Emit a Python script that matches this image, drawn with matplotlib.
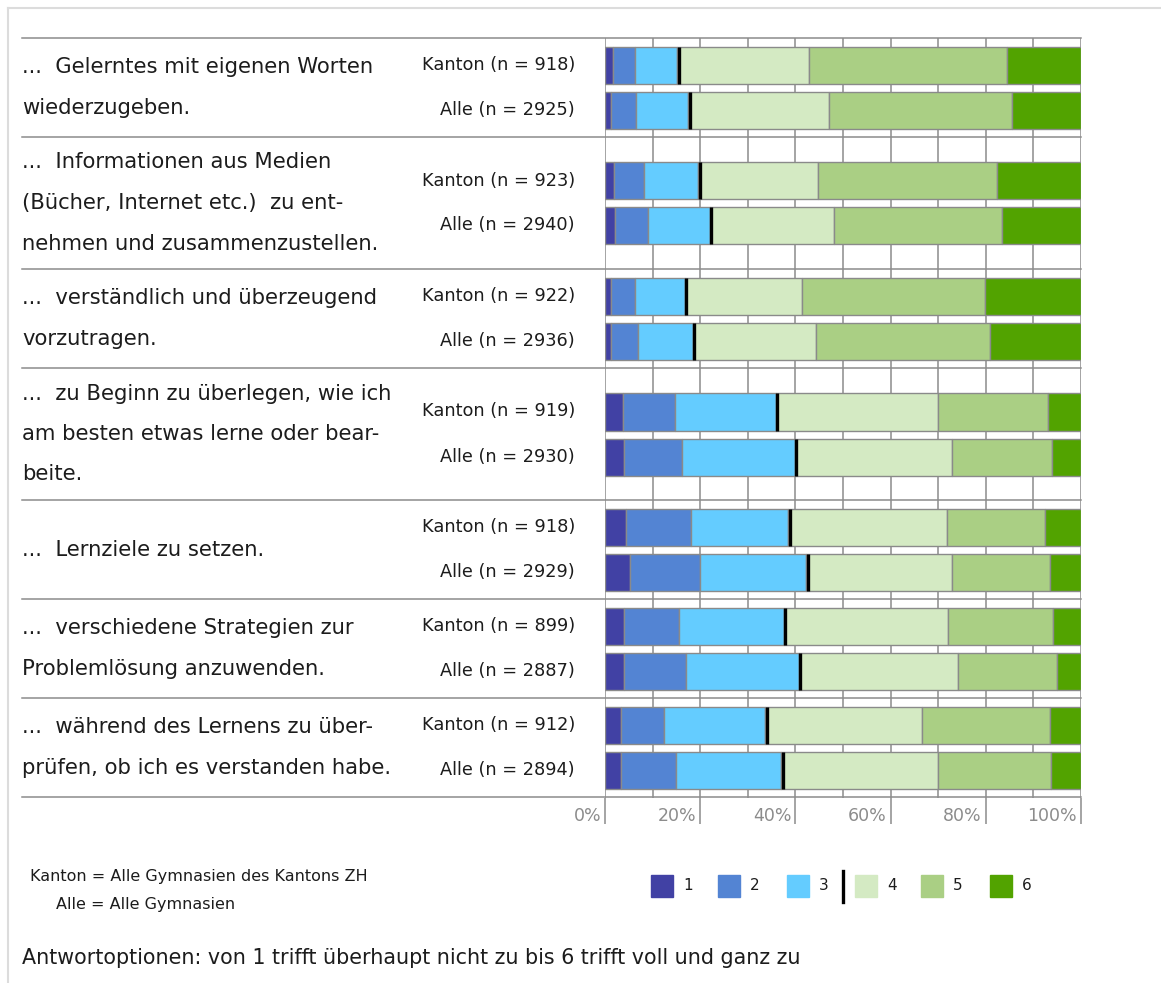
import numpy as np
import matplotlib
matplotlib.use("Agg")
import matplotlib.pyplot as plt
from matplotlib.lines import Line2D
from matplotlib.patches import Rectangle

plt.rcParams['font.family'] = ['DejaVu Sans']

# statements (one list of text lines per item)
items = [
    ["...  Gelerntes mit eigenen Worten", "wiederzugeben."],
    ["...  Informationen aus Medien", "(Bücher, Internet etc.)  zu ent-", "nehmen und zusammenzustellen."],
    ["...  verständlich und überzeugend", "vorzutragen."],
    ["...  zu Beginn zu überlegen, wie ich", "am besten etwas lerne oder bear-", "beite."],
    ["...  Lernziele zu setzen."],
    ["...  verschiedene Strategien zur", "Problemlösung anzuwenden."],
    ["...  während des Lernens zu über-", "prüfen, ob ich es verstanden habe."],
]
n_kanton = [918, 923, 922, 919, 918, 899, 912]
n_alle = [2925, 2940, 2936, 2930, 2929, 2887, 2894]

# percentages for answer options 1..6
kanton = [
    [1.7, 4.5, 9.0, 27.6, 41.7, 15.5],
    [1.8, 6.4, 11.4, 25.2, 37.6, 17.6],
    [1.2, 5.2, 10.4, 24.6, 38.4, 20.2],
    [3.8, 11.0, 21.1, 34.1, 23.1, 6.9],
    [4.5, 13.6, 20.4, 33.3, 20.6, 7.6],
    [4.0, 11.5, 22.1, 34.5, 22.0, 5.9],
    [3.4, 9.0, 21.3, 32.9, 26.9, 6.5],
]
alle = [
    [1.3, 5.3, 10.9, 29.6, 38.3, 14.6],
    [2.2, 6.9, 12.9, 26.2, 35.2, 16.6],
    [1.2, 5.8, 11.4, 26.0, 36.4, 19.2],
    [4.0, 12.2, 23.7, 32.9, 21.1, 6.1],
    [5.2, 14.8, 22.3, 30.5, 20.6, 6.6],
    [4.0, 13.1, 23.6, 33.5, 20.8, 5.0],
    [3.3, 11.7, 22.0, 33.0, 23.7, 6.3],
]
options = ["1", "2", "3", "4", "5", "6"]
colors = ["#4141a4", "#5384d3", "#64ccff", "#d4eac3", "#aacf84", "#52a300"]

W, H = 1161, 983
fig = plt.figure(figsize=(W / 100, H / 100), dpi=100)

def fx(px):
    return px / W

def fy(py):
    return 1 - py / H

# plot area in pixels
x0, x1 = 605, 1081
top, bottom = 38, 798
ax = fig.add_axes([fx(x0), fy(bottom), fx(x1 - x0), (bottom - top) / H])

# group heights (pixel units) depend on the number of text lines
heights = [132 if len(t) >= 3 else 99 for t in items]
edges = np.concatenate([[0], np.cumsum(heights)])
total = edges[-1]
ax.set_xlim(0, 100)
ax.set_ylim(total, 0)
ax.axis("off")

# vertical gridlines
ax.vlines(np.arange(0, 101, 10), 0, total, color="#8c8c8c", lw=1.1, zorder=0)
# longer tick marks with labels below
ax.vlines(np.arange(0, 101, 20), total, total + 26, color="#8c8c8c", lw=1.1, clip_on=False)
for t in range(0, 101, 20):
    ax.text(t - 0.8, total + 18, f"{t}%", ha="right", va="center", fontsize=12.5,
            color="#8c8c8c", clip_on=False)

bar_h = 37
gap = 22.5
label_x = 575
for g in range(len(items)):
    center = (edges[g] + edges[g + 1]) / 2
    for vals, n, name, off in [(kanton[g], n_kanton[g], "Kanton", -gap),
                               (alle[g], n_alle[g], "Alle", gap)]:
        y = center + off
        left = np.concatenate([[0], np.cumsum(vals)[:-1]])
        ax.barh(y, vals, left=left, height=bar_h, color=colors,
                edgecolor="#8a8a8a", linewidth=1, zorder=2)
        b = sum(vals[:3])
        ax.vlines(b + 0.3, y - bar_h / 2, y + bar_h / 2, color="black", lw=2.4, zorder=3)
        fig.text(fx(label_x), fy(top + y), f"{name} (n = {n})", ha="right",
                 va="center", fontsize=12.8, color="#1c1c1c")
    # statement text, lines centred in the group
    lines = items[g]
    for i, line in enumerate(lines):
        ly = center + (i - (len(lines) - 1) / 2) * 40.5
        fig.text(fx(22), fy(top + ly), line, ha="left", va="center",
                 fontsize=15.2, color="#1c1c1c")

# group separators
for e in edges:
    fig.add_artist(Line2D([fx(22), fx(x1)], [fy(top + e)] * 2, color="#8c8c8c", lw=1.1))

# outer frame
fig.add_artist(Line2D([fx(8), fx(W)], [fy(8), fy(8)], color="#dcdcdc", lw=1.5))
fig.add_artist(Line2D([fx(8), fx(8)], [fy(8), fy(H)], color="#dcdcdc", lw=1.5))

# legend
lx = [651, 718, 787, 855, 921, 990]
for px, c, lab in zip(lx, colors, options):
    fig.add_artist(Rectangle((fx(px), fy(897)), fx(22), 22 / H, color=c))
    fig.text(fx(px + 32), fy(886), lab, ha="left", va="center", fontsize=11, color="#1c1c1c")
fig.add_artist(Line2D([fx(843), fx(843)], [fy(871), fy(902)], color="black", lw=2.4))

fig.text(fx(30), fy(876), "Kanton = Alle Gymnasien des Kantons ZH", ha="left", va="center",
         fontsize=11.5, color="#1c1c1c")
fig.text(fx(56), fy(904), "Alle = Alle Gymnasien", ha="left", va="center",
         fontsize=11.5, color="#1c1c1c")
fig.text(fx(22), fy(958), "Antwortoptionen: von 1 trifft überhaupt nicht zu bis 6 trifft voll und ganz zu",
         ha="left", va="center", fontsize=14.9, color="#1c1c1c")

fig.savefig("out.png", dpi=100, facecolor="white")
